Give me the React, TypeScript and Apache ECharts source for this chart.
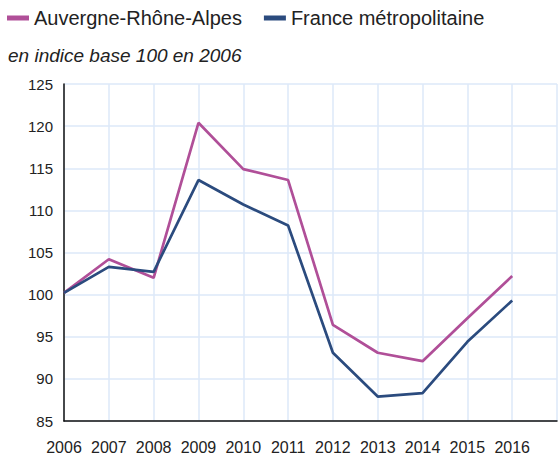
import React, { useEffect, useRef } from "react";
import * as echarts from "echarts";

const years = ["2006", "2007", "2008", "2009", "2010", "2011", "2012", "2013", "2014", "2015", "2016", ""];
const auvergne = [100.2, 104.2, 102.0, 120.4, 114.9, 113.6, 96.4, 93.1, 92.1, 97.2, 102.2, null];
const france = [100.2, 103.3, 102.7, 113.6, 110.7, 108.2, 93.1, 87.9, 88.3, 94.4, 99.3, null];
const seriesNames = ["Auvergne-Rhône-Alpes", "France métropolitaine"];
const subtitle = "en indice base 100 en 2006";

const FONT = "'Liberation Sans', Arial, sans-serif";

export default function App() {
  const ref = useRef<HTMLDivElement>(null);
  useEffect(() => {
    if (!ref.current) return;
    const chart = echarts.init(ref.current, null, { renderer: "svg" });
    chart.setOption({
      animation: false,
      backgroundColor: "#ffffff",
      textStyle: { fontFamily: FONT },
      title: {
        text: subtitle,
        left: 8,
        top: 46,
        padding: 0,
        textStyle: { fontSize: 19, fontStyle: "italic", fontWeight: "normal", color: "#222", fontFamily: FONT },
      },
      legend: {
        left: 7,
        top: 8,
        padding: 0,
        icon: "rect",
        itemWidth: 22,
        itemHeight: 5,
        itemGap: 22,
        textStyle: { fontSize: 20, color: "#222", fontFamily: FONT },
        data: seriesNames,
      },
      grid: { left: 64, right: 0, top: 84, bottom: 39, containLabel: false },
      xAxis: {
        type: "category",
        data: years,
        boundaryGap: false,
        axisLine: { lineStyle: { color: "#111", width: 1.5 } },
        axisTick: { show: false },
        axisLabel: { interval: 0, fontSize: 16, color: "#222", margin: 18, fontFamily: FONT },
        splitLine: { show: true, interval: 0, lineStyle: { color: "#dde9f8", width: 1.5 } },
      },
      yAxis: {
        type: "value",
        min: 85,
        max: 125,
        interval: 5,
        axisLine: { show: true, lineStyle: { color: "#111", width: 1.5 } },
        axisTick: { show: false },
        axisLabel: { fontSize: 15, color: "#222", margin: 11, fontFamily: FONT },
        splitLine: { show: true, lineStyle: { color: "#dde9f8", width: 1.5 } },
      },
      series: [
        {
          name: seriesNames[0],
          type: "line",
          data: auvergne,
          showSymbol: false,
          color: "#b04f98",
          lineStyle: { width: 2.7 },
          z: 3,
        },
        {
          name: seriesNames[1],
          type: "line",
          data: france,
          showSymbol: false,
          color: "#2b4b7e",
          lineStyle: { width: 2.7 },
          z: 4,
        },
      ],
    });
    return () => chart.dispose();
  }, []);
  return (
    <div
      ref={ref}
      style={{ position: "fixed", left: 0, top: 0, width: 560, height: 460 }}
    />
  );
}
